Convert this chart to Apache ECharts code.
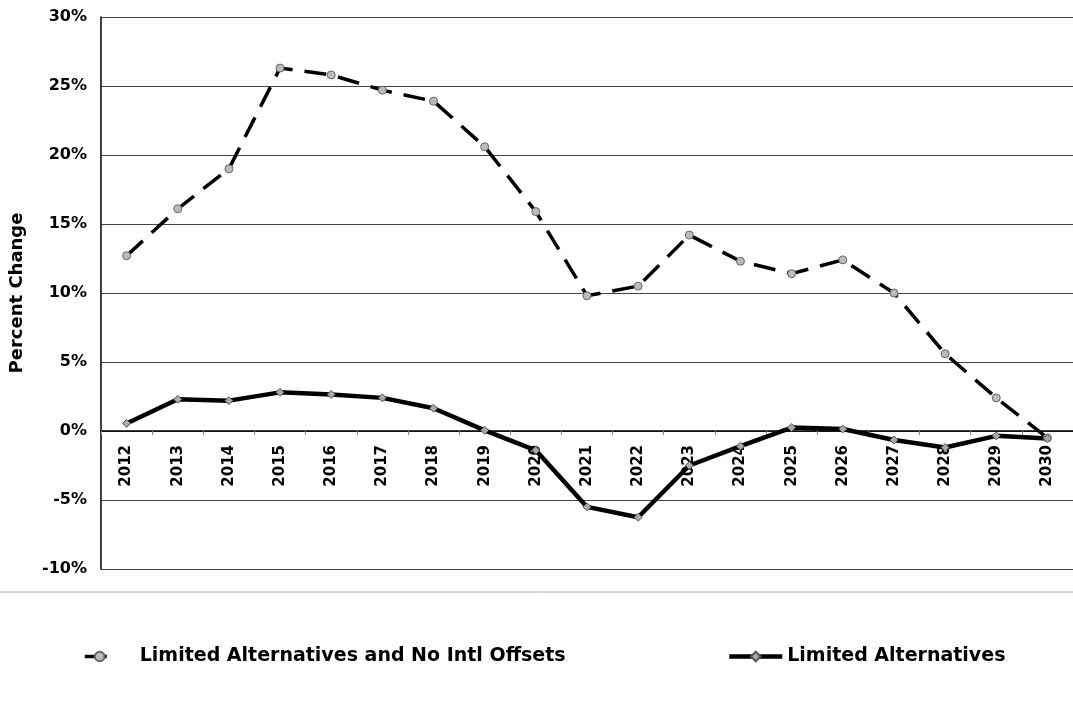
<!DOCTYPE html>
<html>
<head>
<meta charset="utf-8">
<script src="https://cdn.jsdelivr.net/npm/echarts@6/dist/echarts.min.js"></script>
<style>
  html, body { margin: 0; padding: 0; background: #fff; }
  #chart { width: 1073px; height: 716px; }
</style>
</head>
<body>
<div id="chart"></div>
<script>
var years = ['2012', '2013', '2014', '2015', '2016', '2017', '2018', '2019', '2020', '2021',
  '2022', '2023', '2024', '2025', '2026', '2027', '2028', '2029', '2030'];

// Limited Alternatives and No Intl Offsets (dashed)
var noOffsets = [12.7, 16.1, 19.0, 26.3, 25.8, 24.7, 23.9, 20.6, 15.9, 9.8,
  10.5, 14.2, 12.3, 11.4, 12.4, 10.0, 5.6, 2.4, -0.5];

// Limited Alternatives (solid)
var limitedAlt = [0.55, 2.3, 2.2, 2.8, 2.65, 2.4, 1.65, 0.05, -1.4, -5.5,
  -6.25, -2.5, -1.1, 0.25, 0.15, -0.65, -1.2, -0.35, -0.55];

var yTicks = { min: -10, max: 30, step: 5 };

var font = 'DejaVu Sans';

var gridTop = 17, gridHeight = 552;
// put the category axis on the 0% line
var zeroOffset = -gridHeight * (0 - yTicks.min) / (yTicks.max - yTicks.min);

var chartDom = document.getElementById('chart');
var myChart = echarts.init(chartDom);
var option;

option = {
  backgroundColor: '#fff',
  animation: false,
  grid: {
    left: 101,
    top: gridTop,
    width: 980,
    height: gridHeight
  },
  legend: [
    {
      left: 83,
      top: 647,
      padding: 0,
      itemWidth: 30,
      itemHeight: 12,
      lineStyle: { width: 3.5 },
      data: ['Limited Alternatives and No Intl Offsets'],
      textStyle: {
        fontFamily: font,
        fontWeight: 'bold',
        fontSize: 19,
        color: '#000',
        padding: [0, 0, 0, 20]
      }
    },
    {
      left: 727,
      top: 647,
      padding: 0,
      itemWidth: 53,
      itemHeight: 12,
      lineStyle: { width: 4.5 },
      data: ['Limited Alternatives'],
      textStyle: {
        fontFamily: font,
        fontWeight: 'bold',
        fontSize: 19,
        color: '#000'
      }
    }
  ],
  xAxis: {
    type: 'category',
    data: years,
    boundaryGap: true,
    position: 'bottom',
    offset: zeroOffset,
    axisLine: {
      onZero: false,
      lineStyle: { color: '#000', width: 1.5 }
    },
    axisTick: {
      show: true,
      length: 4,
      lineStyle: { color: '#888' }
    },
    axisLabel: {
      rotate: 90,
      margin: 14,
      interval: 0,
      fontFamily: font,
      fontWeight: 'bold',
      fontSize: 15,
      color: '#000'
    }
  },
  yAxis: {
    type: 'value',
    min: yTicks.min,
    max: yTicks.max,
    interval: yTicks.step,
    name: 'Percent Change',
    nameLocation: 'middle',
    nameGap: 75,
    nameRotate: 90,
    nameTextStyle: {
      fontFamily: font,
      fontWeight: 'bold',
      fontSize: 18,
      color: '#000'
    },
    axisLine: {
      show: true,
      lineStyle: { color: '#000', width: 1.5 }
    },
    axisTick: { show: false },
    axisLabel: {
      formatter: '{value}%',
      margin: 14,
      fontFamily: font,
      fontWeight: 'bold',
      fontSize: 16,
      color: '#000'
    },
    splitLine: {
      show: true,
      lineStyle: { color: '#444', width: 1 }
    }
  },
  graphic: [
    {
      type: 'line',
      shape: { x1: 0, y1: 592, x2: 1073, y2: 592 },
      style: { stroke: '#aaa', lineWidth: 1 }
    }
  ],
  series: [
    {
      name: 'Limited Alternatives and No Intl Offsets',
      type: 'line',
      data: noOffsets,
      symbol: 'circle',
      symbolSize: 8,
      itemStyle: { color: '#bbb', borderColor: '#666', borderWidth: 1 },
      lineStyle: { color: '#000', width: 3.5, type: [22, 12] },
      z: 3
    },
    {
      name: 'Limited Alternatives',
      type: 'line',
      data: limitedAlt,
      symbol: 'diamond',
      symbolSize: 8,
      itemStyle: { color: '#aaa', borderColor: '#555', borderWidth: 1 },
      lineStyle: { color: '#000', width: 4.5 },
      z: 3
    }
  ]
};

option && myChart.setOption(option);
</script>
</body>
</html>
